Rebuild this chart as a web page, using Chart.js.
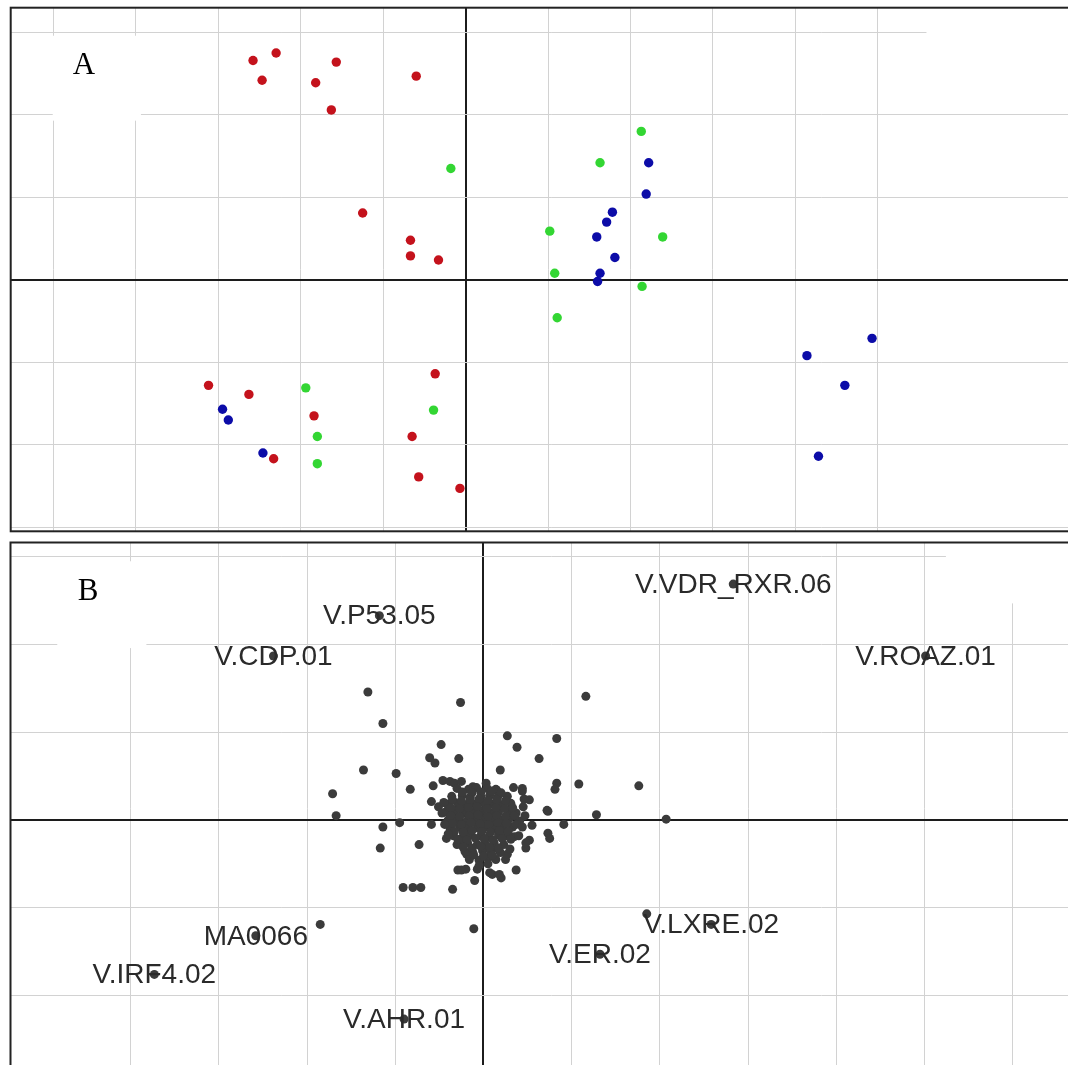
<!DOCTYPE html>
<html>
<head>
<meta charset="utf-8">
<script src="https://cdn.jsdelivr.net/npm/chart.js@4.4.1/dist/chart.umd.min.js"></script>
<style>
  html, body { margin: 0; padding: 0; background: #fff; overflow: hidden; width: 1068px; height: 1065px; }
  canvas { position: absolute; }
  #chartA { left: 6px; top: 3px; }
  #chartB { left: 6px; top: 538px; }
</style>
</head>
<body>
<canvas id="chartA" width="1090" height="533"></canvas>
<canvas id="chartB" width="1090" height="540"></canvas>
<script>
// ---- panel A: three groups ----
const redX   = [-2.58, -2.30, -2.47, -1.57, -1.82, -0.60, -1.63, -1.25, -0.67, -0.67, -0.33, -3.12, -2.63, -1.84, -2.33, -0.37, -0.65, -0.57, -0.07];
const redY   = [ 2.66,  2.75,  2.42,  2.64,  2.39,  2.47,  2.06,  0.81,  0.48,  0.29,  0.24, -1.28, -1.39, -1.65, -2.17, -1.14, -1.90, -2.39, -2.53];
const greenX = [-0.18, -1.94, -1.80, -1.80, -0.39, 2.13, 1.63, 1.02, 2.39, 1.08, 2.14, 1.11];
const greenY = [ 1.35, -1.31, -1.90, -2.23, -1.58, 1.80, 1.42, 0.59, 0.52, 0.08, -0.08, -0.46];
const blueX  = [-2.95, -2.88, -2.46, 2.22, 2.19, 1.78, 1.71, 1.59, 1.81, 1.63, 1.60, 4.14, 4.93, 4.60, 4.28];
const blueY  = [-1.57, -1.70, -2.10, 1.42, 1.04, 0.82, 0.70, 0.52, 0.27, 0.08, -0.02, -0.92, -0.71, -1.28, -2.14];
const gridAX = [-5, -4, -3, -2, -1, 0, 1, 2, 3, 4, 5];
const gridAY = [-3, -2, -1, 0, 1, 2, 3];

// ---- panel B: labelled motifs + cloud ----
const motifNames = ['V.P53.05', 'V.CDP.01', 'V.VDR_RXR.06', 'V.ROAZ.01', 'MA0066', 'V.IRF4.02', 'V.AHR.01', 'V.LXRE.02', 'V.ER.02'];
const motifX = [-1.18, -2.38, 2.83, 5.01, -2.58, -3.73, -0.90, 2.58, 1.32];
const motifY = [ 2.33,  1.87, 2.69, 1.87, -1.32, -1.76, -2.27, -1.19, -1.53];
const cloudX = [
  -1.31, -0.26, -1.14, 0.27, 0.38, -0.48, -0.61, -0.55, -0.28, -1.36, -0.99, 0.19, -1.71, -0.83, 1.16, 0.83, 0.63, 0.83, 1.08, 0.81,
  1.76, -1.67, -1.14, -0.95, -1.17, -0.73, -0.91, -0.80, -0.71, -0.35, -1.85, -0.11, -0.59, 0.73, 1.28, 2.07, 0.91, 0.73, 0.75, 1.85,
  -0.57, -0.51, -0.59, 0.34, 0.44, 0.72, -0.42, 0.52, 0.48, -0.29, -0.20, -0.07, -0.10, 0.10, 0.20, 0.37,
  -0.46, -0.38, 0.44, 0.52, 0.55, 0.48, 0.18, 0.07, -0.25, -0.30, -0.19, 0.15, 0.27, -0.33, -0.25, -0.12, 0.03, 0.15,
  -0.30, -0.17, -0.08, 0.04, 0.14,
  -0.36, -0.24, -0.15, -0.03, 0.07, 0.16, 0.27,
  -0.41, -0.29, -0.21, -0.09, 0.01, 0.11, 0.19, 0.31,
  -0.43, -0.33, -0.22, -0.11, -0.02, 0.09, 0.17, 0.28, 0.37,
  -0.40, -0.31, -0.19, -0.10, 0.01, 0.10, 0.21, 0.29, 0.41,
  -0.38, -0.27, -0.18, -0.07, 0.02, 0.13, 0.22, 0.33,
  -0.34, -0.23, -0.14, -0.03, 0.06, 0.17, 0.25, 0.35,
  -0.27, -0.18, -0.07, 0.02, 0.12, 0.23,
  -0.21, -0.12, -0.01, 0.08, 0.19,
  -0.16, -0.05, 0.05, 0.14,
  -0.24, -0.13, -0.03, 0.09, 0.20,
  -0.35, -0.25, -0.15, -0.05, 0.05, 0.15, 0.25,
  -0.37, -0.27, -0.17, -0.07, 0.04, 0.14, 0.24, 0.33,
  -0.37, -0.27, -0.16, -0.06, 0.05, 0.15, 0.25, 0.35,
  -0.35, -0.25, -0.14, -0.04, 0.06, 0.16, 0.26, 0.37,
  -0.33, -0.23, -0.13, -0.02, 0.08, 0.18, 0.28,
  -0.29, -0.19, -0.09, 0.01, 0.11, 0.21, 0.31,
  -0.23, -0.13, -0.03, 0.07, 0.17,
  -0.11, 0.00, 0.10,
  0.45, 0.47, 0.44, 0.40, 0.46, -0.45, -0.47, -0.44, -0.40, 0.30, 0.25, -0.05, 0.05
];
const cloudY = [
  1.46, 1.34, 1.10, 0.96, 0.83, 0.86, 0.71, 0.65, 0.70, 0.57, 0.53, 0.57, 0.30, 0.35, 1.41, 0.93, 0.70, 0.42, 0.41, 0.35,
  0.39, 0.05, -0.08, -0.03, -0.32, -0.28, -0.77, -0.77, -0.77, -0.79, -1.19, -1.24, -0.05, 0.10, 0.06, 0.01, -0.05, -0.15, -0.21, -1.07,
  0.39, 0.15, 0.21, 0.37, 0.36, 0.11, -0.21, -0.23, -0.32, -0.57, -0.56, -0.56, -0.69, -0.62, -0.66, -0.57,
  0.45, 0.44, 0.33, 0.23, -0.06, -0.26, -0.62, -0.60, -0.57, -0.28, -0.39, -0.32, -0.39, 0.42, 0.44, 0.38, 0.42, 0.34,
  0.36, 0.35, 0.37, 0.36, 0.35,
  0.27, 0.28, 0.26, 0.27, 0.28, 0.26, 0.27,
  0.18, 0.19, 0.17, 0.18, 0.19, 0.18, 0.17, 0.19,
  0.09, 0.10, 0.08, 0.09, 0.10, 0.08, 0.09, 0.10, 0.08,
  0.00, 0.01, -0.01, 0.00, 0.01, -0.01, 0.00, 0.01, -0.01,
  -0.09, -0.08, -0.10, -0.09, -0.08, -0.10, -0.09, -0.08,
  -0.18, -0.19, -0.17, -0.18, -0.19, -0.17, -0.18, -0.19,
  -0.27, -0.26, -0.28, -0.27, -0.26, -0.28,
  -0.36, -0.37, -0.35, -0.36, -0.37,
  -0.45, -0.46, -0.44, -0.45,
  0.32, 0.31, 0.32, 0.33, 0.31,
  0.23, 0.22, 0.23, 0.24, 0.22, 0.23, 0.22,
  0.14, 0.13, 0.14, 0.15, 0.13, 0.14, 0.13, 0.14,
  0.05, 0.04, 0.05, 0.06, 0.04, 0.05, 0.04, 0.05,
  -0.04, -0.05, -0.03, -0.04, -0.05, -0.03, -0.04, -0.05,
  -0.13, -0.14, -0.12, -0.13, -0.14, -0.12, -0.13,
  -0.22, -0.23, -0.21, -0.22, -0.23, -0.21, -0.22,
  -0.31, -0.32, -0.30, -0.31, -0.32,
  -0.40, -0.41, -0.40,
  0.15, 0.05, -0.08, -0.18, 0.24, 0.20, 0.08, -0.05, -0.16, -0.33, -0.45, -0.52, -0.50
];
const gridBX = [-4, -3, -2, -1, 0, 1, 2, 3, 4, 5, 6];
const gridBY = [-2, -1, 0, 1, 2, 3];

const pts = (xs, ys) => xs.map((x, i) => ({ x: x, y: ys[i] }));

function axis(min, max, ticks) {
  return {
    type: 'linear', min: min, max: max,
    afterBuildTicks: s => { s.ticks = ticks.map(v => ({ value: v })); },
    ticks: { display: false },
    border: { display: false },
    grid: {
      drawTicks: false,
      color: c => (c.tick && c.tick.value === 0) ? '#1c1c1c' : '#d2d2d2',
      lineWidth: c => (c.tick && c.tick.value === 0) ? 2 : 1
    }
  };
}

// white boxes over the grid + the panel letter
const maskPlugin = {
  id: 'masks',
  beforeDatasetsDraw(chart, args, opts) {
    const ctx = chart.ctx, sx = chart.scales.x, sy = chart.scales.y;
    ctx.save();
    ctx.fillStyle = '#fff';
    (opts.boxes || []).forEach(b => {
      const x0 = sx.getPixelForValue(b.x0), x1 = sx.getPixelForValue(b.x1);
      const y0 = sy.getPixelForValue(b.y1), y1 = sy.getPixelForValue(b.y0);
      ctx.fillRect(x0, y0, x1 - x0, y1 - y0);
    });
    if (opts.letter) {
      ctx.fillStyle = '#000';
      ctx.font = '31px "Liberation Serif"';
      ctx.textAlign = 'center';
      ctx.textBaseline = 'middle';
      ctx.fillText(opts.letter.text, sx.getPixelForValue(opts.letter.x), sy.getPixelForValue(opts.letter.y));
    }
    ctx.restore();
  }
};

const framePlugin = {
  id: 'frame',
  afterDraw(chart) {
    const ctx = chart.ctx, a = chart.chartArea;
    ctx.save();
    ctx.strokeStyle = '#222';
    ctx.lineWidth = 2;
    ctx.strokeRect(a.left, a.top, a.right - a.left, a.bottom - a.top);
    ctx.restore();
  }
};

const motifLabels = {
  id: 'motifLabels',
  afterDatasetsDraw(chart, args, opts) {
    if (!opts.names) return;
    const ctx = chart.ctx, sx = chart.scales.x, sy = chart.scales.y;
    ctx.save();
    ctx.fillStyle = '#2a2a2a';
    ctx.font = '28px "Liberation Sans"';
    ctx.textAlign = 'center';
    ctx.textBaseline = 'middle';
    opts.names.forEach((n, i) => {
      ctx.fillText(n, sx.getPixelForValue(opts.xs[i]), sy.getPixelForValue(opts.ys[i]) + 1);
    });
    ctx.restore();
  }
};

function baseOptions(range, gx, gy, pluginOpts) {
  return {
    responsive: false,
    animation: false,
    events: [],
    layout: { padding: { left: 1, top: 2, right: 0, bottom: 2 } },
    scales: { x: axis(range[0], range[1], gx), y: axis(range[2], range[3], gy) },
    plugins: Object.assign({ legend: { display: false }, tooltip: { enabled: false } }, pluginOpts)
  };
}

const rangeA = [-5.52, 7.59, -3.05, 3.30];
new Chart(document.getElementById('chartA'), {
  type: 'scatter',
  data: {
    datasets: [
      { data: pts(redX, redY), backgroundColor: '#c4121c', pointRadius: 4.7, borderWidth: 0 },
      { data: pts(greenX, greenY), backgroundColor: '#33d633', pointRadius: 4.7, borderWidth: 0 },
      { data: pts(blueX, blueY), backgroundColor: '#0c0ca8', pointRadius: 4.7, borderWidth: 0 }
    ]
  },
  options: baseOptions(rangeA, gridAX, gridAY, {
    masks: {
      boxes: [ { x0: 5.59, x1: 7.59, y0: 2.5, y1: 3.30 }, { x0: -5.01, x1: -3.94, y0: 1.93, y1: 2.96 } ],
      letter: { text: 'A', x: -4.63, y: 2.59 }
    }
  }),
  plugins: [maskPlugin, framePlugin]
});

const rangeB = [-5.36, 6.89, -2.89, 3.164];
new Chart(document.getElementById('chartB'), {
  type: 'scatter',
  data: {
    datasets: [
      { data: pts(cloudX, cloudY), backgroundColor: '#3b3b3b', pointRadius: 4.5, borderWidth: 0 },
      { data: pts(motifX, motifY), backgroundColor: '#3b3b3b', pointRadius: 4.5, borderWidth: 0 }
    ]
  },
  options: baseOptions(rangeB, gridBX, gridBY, {
    masks: {
      boxes: [ { x0: 5.24, x1: 6.89, y0: 2.47, y1: 3.164 }, { x0: -4.83, x1: -3.82, y0: 1.96, y1: 2.95 } ],
      letter: { text: 'B', x: -4.48, y: 2.60 }
    },
    motifLabels: { names: motifNames, xs: motifX, ys: motifY }
  }),
  plugins: [maskPlugin, motifLabels, framePlugin]
});
</script>
</body>
</html>
